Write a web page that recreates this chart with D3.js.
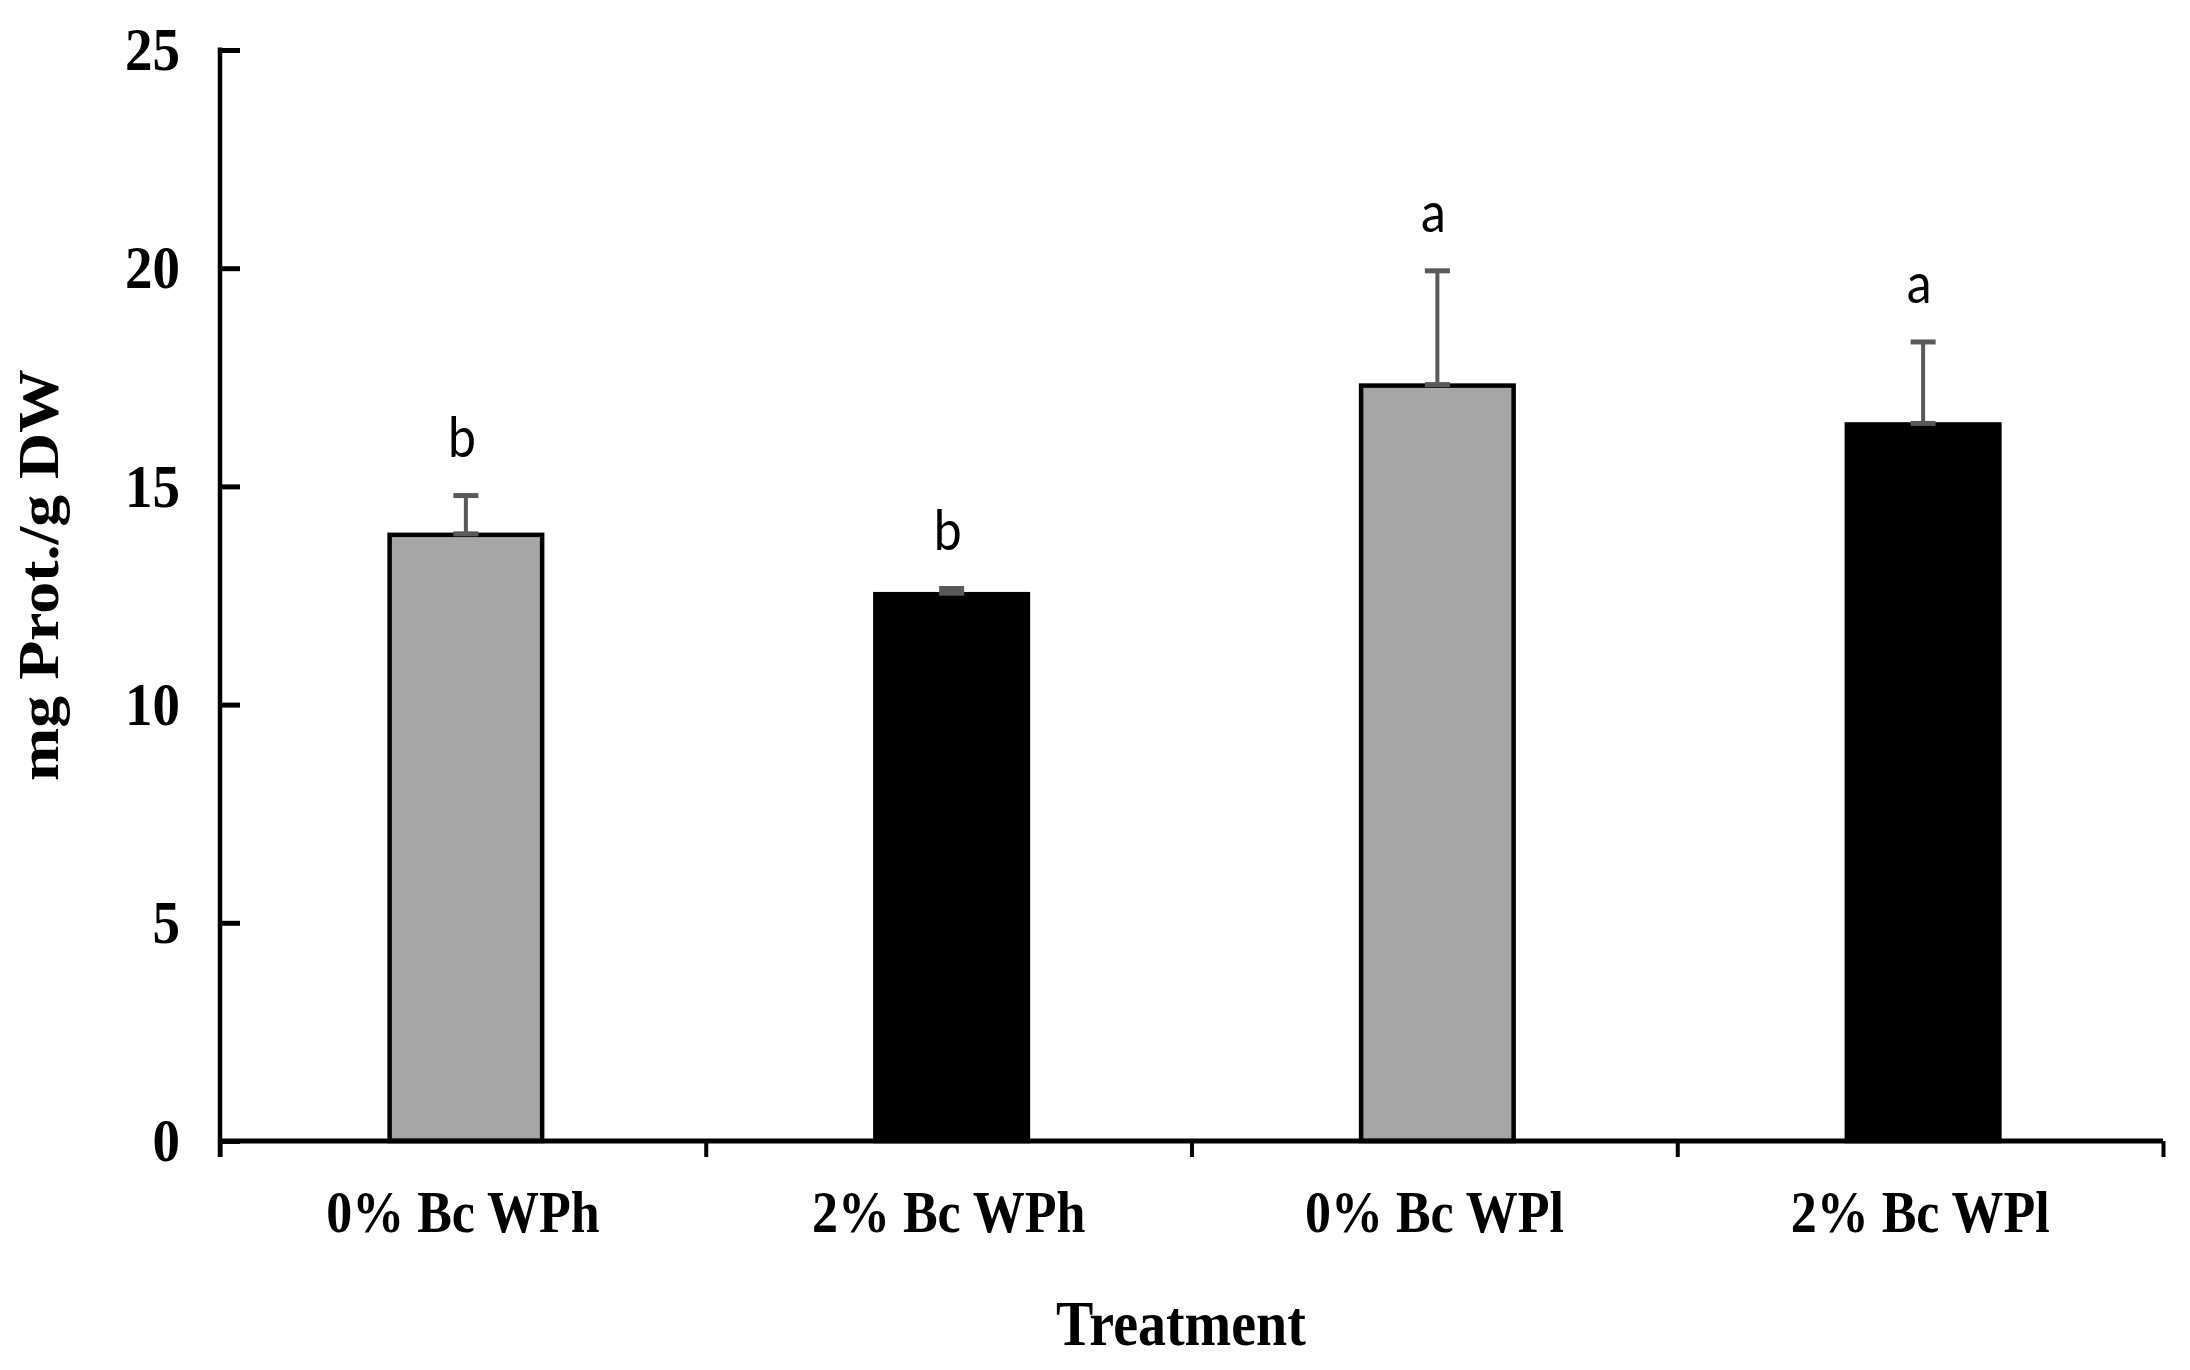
<!DOCTYPE html>
<html>
<head>
<meta charset="utf-8">
<script src="https://cdn.jsdelivr.net/npm/d3@7"></script>
<style>
  body { margin: 0; background: #fff; }
  svg { display: block; }
  .serif { font-family: "Liberation Serif", "Times New Roman", serif; font-weight: bold; fill: #000; }
</style>
</head>
<body>
<svg id="chart" width="2190" height="1370"></svg>
<script>
// values
const categories = ["0% Bc WPh", "2% Bc WPh", "0% Bc WPl", "2% Bc WPl"];
const doses = ["0%", "2%", "0%", "2%"];
const means = [13.89, 12.53, 17.31, 16.42];
const errors = [0.9, 0.13, 2.63, 1.89];
const letters = ["b", "b", "a", "a"];
const yTicks = [0, 5, 10, 15, 20, 25];

const width = 2190, height = 1370;
const margin = { top: 50, right: 27, bottom: 229, left: 220 };
const stretch = 1.12; // reference text is a little taller than wide
const barShift = 3;   // bars sit a touch right of the band centres

const svg = d3.select("#chart");
svg.append("rect").attr("width", width).attr("height", height).attr("fill", "#fff");

const xRange = [margin.left, width - margin.right];
const yRange = [height - margin.bottom, margin.top];

const x = d3.scaleBand(categories, xRange).paddingInner(0.686).paddingOuter(0.343);
const xEdges = d3.scaleLinear([0, categories.length], xRange);
const y = d3.scaleLinear([0, 25], yRange);
const colour = d3.scaleOrdinal(["0%", "2%"], ["#a6a6a6", "#000000"]);

const data = categories.map((c, i) => ({ cat: c, dose: doses[i], mean: means[i], err: errors[i], letter: letters[i] }));

// bars
svg.append("g")
    .attr("transform", `translate(${barShift},0)`)
  .selectAll("rect")
  .data(data)
  .join("rect")
    .attr("x", d => x(d.cat))
    .attr("y", d => y(d.mean))
    .attr("width", x.bandwidth())
    .attr("height", d => y(0) - y(d.mean))
    .attr("fill", d => colour(d.dose))
    .attr("stroke", "#000")
    .attr("stroke-width", 4.5);

// error bars (plus direction only, Excel style)
const eb = svg.append("g")
    .attr("stroke", "#595959")
  .selectAll("g")
  .data(data)
  .join("g")
    .attr("transform", d => `translate(${x(d.cat) + x.bandwidth() / 2 + barShift},0)`);

eb.append("line")
  .attr("y1", d => y(d.mean))
  .attr("y2", d => y(d.mean + d.err))
  .attr("stroke-width", 4);
eb.append("line")
  .attr("x1", -12.5).attr("x2", 12.5)
  .attr("y1", d => y(d.mean + d.err))
  .attr("y2", d => y(d.mean + d.err))
  .attr("stroke-width", 5);
eb.append("line")
  .attr("x1", -12.5).attr("x2", 12.5)
  .attr("y1", d => y(d.mean) - 1)
  .attr("y2", d => y(d.mean) - 1)
  .attr("stroke-width", 5);

// significance letters
eb.append("text")
  .attr("transform", d => `translate(-4,${y(d.mean + d.err) - 39}) scale(1,${stretch})`)
  .attr("text-anchor", "middle")
  .attr("stroke", "none")
  .attr("fill", "#000")
  .style("font-family", "Lato, 'Liberation Sans', sans-serif")
  .style("font-size", "50px")
  .text(d => d.letter);

// y axis
const yAxis = d3.axisLeft(y).tickValues(yTicks).tickSize(-20).tickPadding(40);
svg.append("g")
  .attr("transform", `translate(${margin.left},0)`)
  .call(yAxis)
  .call(g => g.select(".domain").attr("stroke-width", 4.5)
      .attr("d", `M0,${y(25) - 2.5}V${y(0) + 16}`))
  .call(g => g.selectAll(".tick line").attr("stroke-width", 5))
  .call(g => g.selectAll(".tick text")
      .attr("class", "serif")
      .style("font-size", "55px")
      .attr("transform", `scale(1,${stretch})`));

// x axis: boundary ticks
const xAxis = d3.axisBottom(xEdges).tickValues(d3.range(categories.length + 1)).tickSize(16).tickFormat("");
svg.append("g")
  .attr("transform", `translate(0,${y(0)})`)
  .call(xAxis)
  .call(g => g.select(".domain").attr("stroke-width", 5)
      .attr("d", `M${margin.left},0H${width - margin.right}`))
  .call(g => g.selectAll(".tick line").attr("stroke-width", 4));

// x axis: category labels
const xLabels = d3.axisBottom(x).tickSize(0).tickPadding(0);
svg.append("g")
  .attr("transform", `translate(0,${y(0)})`)
  .call(xLabels)
  .call(g => g.select(".domain").remove())
  .call(g => g.selectAll(".tick text")
      .attr("class", "serif")
      .attr("y", 0).attr("dy", 0)
      .style("font-size", "52px")
      .attr("transform", `translate(0,91) scale(1,${stretch})`));

// axis titles
svg.append("text")
  .attr("class", "serif")
  .attr("text-anchor", "middle")
  .style("font-size", "56px")
  .attr("transform", `translate(1181,1345) scale(1,${stretch})`)
  .text("Treatment");

svg.append("text")
  .attr("class", "serif")
  .attr("text-anchor", "middle")
  .style("font-size", "57px")
  .attr("transform", `translate(58,575) scale(1,${stretch}) rotate(-90)`)
  .text("mg Prot./g DW");
</script>
</body>
</html>
